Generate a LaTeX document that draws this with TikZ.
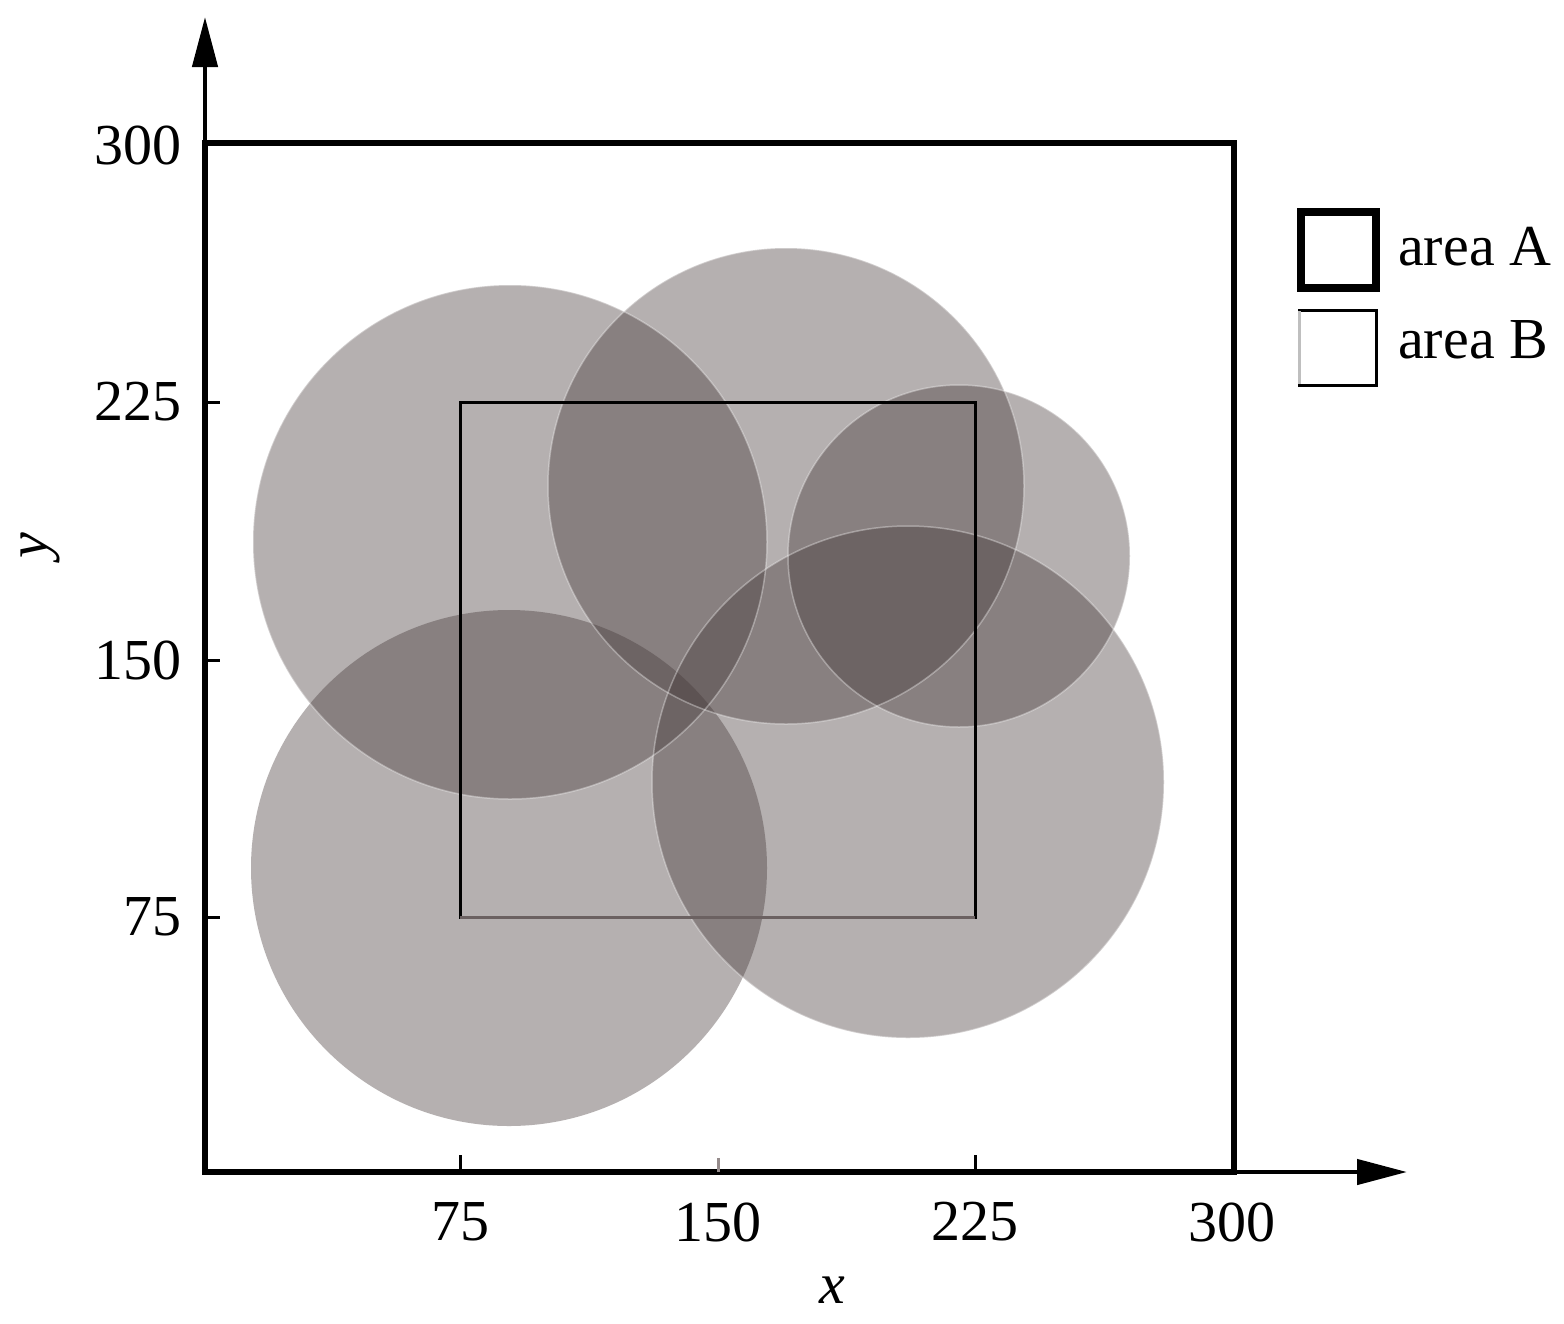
\documentclass[tikz,border=0pt]{standalone}
\usepackage{fontspec}
\setmainfont{Liberation Serif}
\usetikzlibrary{arrows.meta}
\definecolor{disk}{RGB}{70,58,58}
\definecolor{faint}{RGB}{150,140,140}
\begin{document}
\begin{tikzpicture}[x=1pt,y=-1pt,
  lbl/.style={inner sep=0pt, font=\fontsize{58}{60}\selectfont},
  disc/.style={fill=disk, fill opacity=0.4},
  rim/.style={draw=white, line width=1.5pt, draw opacity=0.35},
  axisline/.style={line width=4.5pt, -{Triangle[length=50pt,width=25pt]}},
  tickmark/.style={line width=3pt}]
\useasboundingbox[fill=white] (0,0) rectangle (1564,1323);
% coverage discs
\fill[disc] (510,542) circle[radius=257pt];
\fill[disc] (786,486) circle[radius=238pt];
\fill[disc] (959,556) circle[radius=171pt];
\fill[disc] (509,868) circle[radius=258pt];
\fill[disc] (908,782) circle[radius=256pt];
\draw[rim] (510,542) circle[radius=257pt];
\draw[rim] (786,486) circle[radius=238pt];
\draw[rim] (959,556) circle[radius=171pt];
\draw[rim] (908,782) circle[radius=256pt];
% area B (inner square)
\draw[line width=3pt] (460,402) rectangle (975,917);
\draw[line width=3pt, color=disk!80] (460,917) -- (975,917);
% area A (outer square)
\draw[line width=6pt] (205,143) rectangle (1234,1172);
% axes
\coordinate (O) at (205,1172);
\coordinate (ytip) at (205,17);
\coordinate (xtip) at (1407,1172);
\draw[axisline] (O) -- (ytip);
\draw[axisline] (O) -- (xtip);
% ticks
\draw[tickmark] (460,1172) -- (460,1155);
\draw[tickmark, color=faint] (718,1172) -- (718,1158);
\draw[tickmark] (975,1172) -- (975,1155);
\draw[tickmark] (205,402) -- (220,402);
\draw[tickmark] (205,660) -- (220,660);
\draw[tickmark] (205,917) -- (220,917);
% y tick labels
\node[lbl, anchor=east] (y300) at (182,145) {300};
\node[lbl, anchor=east] (y225) at (182,402) {225};
\node[lbl, anchor=east] (y150) at (182,660) {150};
\node[lbl, anchor=east] (y75)  at (182,917) {75};
% x tick labels
\node[lbl] (x75)  at (460,1222) {75};
\node[lbl] (x150) at (718,1222) {150};
\node[lbl] (x225) at (975,1222) {225};
\node[lbl] (x300) at (1232,1222) {300};
% axis titles
\node[lbl, font=\fontsize{58}{60}\selectfont\itshape] (xlab) at (832,1290) {x};
\node[lbl, font=\fontsize{58}{60}\selectfont\itshape, rotate=90] (ylab) at (40,546) {y};
% legend
\draw[line width=8pt] (1301,212) rectangle (1376,288);
\draw[line width=3pt] (1299,310) rectangle (1376,385);
\draw[line width=3pt, color=gray!50] (1299,311) -- (1299,384);
\node[lbl, anchor=west] (legA) at (1398,247) {area A};
\node[lbl, anchor=west] (legB) at (1398,340) {area B};
\end{tikzpicture}
\end{document}
